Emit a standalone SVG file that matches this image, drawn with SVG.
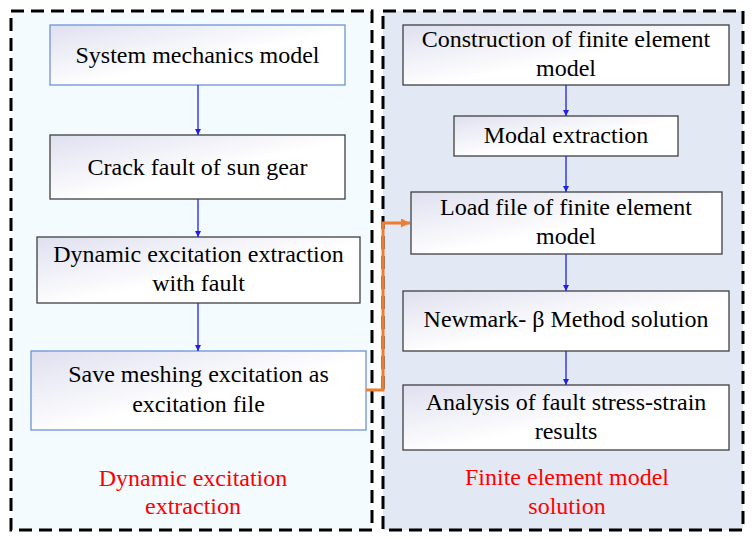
<svg xmlns="http://www.w3.org/2000/svg" width="753" height="539" viewBox="0 0 753 539">
<defs>
<linearGradient id="g" x1="0" y1="0" x2="1" y2="1">
<stop offset="0" stop-color="#dfe0ef"/>
<stop offset="0.55" stop-color="#ffffff"/>
<stop offset="1" stop-color="#ffffff"/>
</linearGradient>
<marker id="ab" viewBox="0 0 10 10" refX="10" refY="5" markerWidth="6" markerHeight="7" markerUnits="userSpaceOnUse" orient="auto">
<path d="M0,0 L10,5 L0,10 z" fill="#1f1fe6"/>
</marker>
<marker id="ao" viewBox="0 0 10 10" refX="10" refY="5" markerWidth="10" markerHeight="9" markerUnits="userSpaceOnUse" orient="auto">
<path d="M0,0 L10,5 L0,10 z" fill="#ed7d31"/>
</marker>
</defs>
<style>
.panel{stroke:#000;stroke-width:3;stroke-dasharray:13 7}
.box{fill:url(#g);stroke:#404040;stroke-width:1.3}
.bbox{fill:url(#g);stroke:#6f93d4;stroke-width:1.3}
text{font-size:24px;text-anchor:middle;fill:#000}
.lbl{fill:#ff0000}
.c{stroke:#1f1fe6;stroke-width:1.3;fill:none}
.o{stroke:#ed7d31;stroke-width:3;fill:none}
</style>
<rect width="753" height="539" fill="#ffffff"/>
<g font-family="Liberation Serif, Times New Roman, DejaVu Serif, serif">
<g id="panel-left">
<rect class="panel" x="11" y="11" width="361" height="519" fill="#f3fbfe"/>
<text class="lbl" x="193" y="486">Dynamic excitation</text>
<text class="lbl" x="193" y="514">extraction</text>
</g>
<g id="panel-right">
<rect class="panel" x="383" y="11" width="360" height="519" fill="#e3e8f5"/>
<text class="lbl" x="567" y="485">Finite element model</text>
<text class="lbl" x="567" y="514">solution</text>
</g>
<g id="n1"><rect class="bbox" x="50" y="25" width="295" height="60"/><text x="197.5" y="63">System mechanics model</text></g>
<g id="n2"><rect class="box" x="50" y="135" width="295" height="64"/><text x="197.5" y="175">Crack fault of sun gear</text></g>
<g id="n3"><rect class="box" x="37" y="237" width="323" height="66"/><text x="198.5" y="262">Dynamic excitation extraction</text><text x="198.5" y="291">with fault</text></g>
<g id="n4"><rect class="bbox" x="31" y="351" width="335" height="79"/><text x="198.5" y="382">Save meshing excitation as</text><text x="198.5" y="412">excitation file</text></g>
<g id="n5"><rect class="box" x="403" y="25" width="326" height="60"/><text x="566" y="47">Construction of finite element</text><text x="566" y="76">model</text></g>
<g id="n6"><rect class="box" x="454" y="116" width="224" height="40"/><text x="566" y="143">Modal extraction</text></g>
<g id="n7"><rect class="box" x="411" y="192" width="311" height="62"/><text x="566" y="215">Load file of finite element</text><text x="566" y="244">model</text></g>
<g id="n8"><rect class="box" x="403" y="291" width="326" height="60"/><text x="566" y="327">Newmark- β Method solution</text></g>
<g id="n9"><rect class="box" x="403" y="385" width="326" height="65"/><text x="566" y="410">Analysis of fault stress-strain</text><text x="566" y="439">results</text></g>
</g>
<g id="connectors">
<line class="c" x1="198" y1="85" x2="198" y2="135" marker-end="url(#ab)"/>
<line class="c" x1="198" y1="199" x2="198" y2="237" marker-end="url(#ab)"/>
<line class="c" x1="198" y1="303" x2="198" y2="351" marker-end="url(#ab)"/>
<line class="c" x1="566" y1="85" x2="566" y2="116" marker-end="url(#ab)"/>
<line class="c" x1="566" y1="156" x2="566" y2="192" marker-end="url(#ab)"/>
<line class="c" x1="566" y1="254" x2="566" y2="291" marker-end="url(#ab)"/>
<line class="c" x1="566" y1="351" x2="566" y2="385" marker-end="url(#ab)"/>
<polyline class="o" points="366,390 383,390 383,223 410,223" marker-end="url(#ao)"/>
</g>
</svg>
